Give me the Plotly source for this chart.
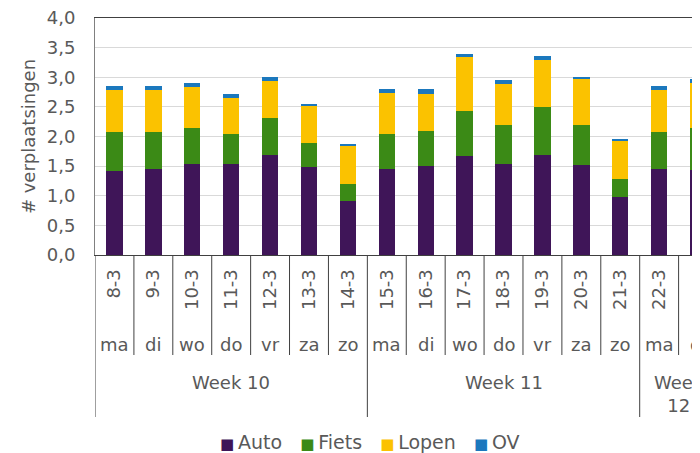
import plotly.graph_objects as go

dates = ["8-3", "9-3", "10-3", "11-3", "12-3", "13-3", "14-3", "15-3",
         "16-3", "17-3", "18-3", "19-3", "20-3", "21-3", "22-3", "23-3"]
weekdays = ["ma", "di", "wo", "do", "vr", "za", "zo", "ma",
            "di", "wo", "do", "vr", "za", "zo", "ma", "di"]
weeks = ["Week 10", "Week 11", "Week<br>12"]
week_start = [0, 7, 14]
week_end = [6, 13, 15]

auto = [1.42, 1.45, 1.53, 1.54, 1.69, 1.48, 0.91, 1.46, 1.51, 1.67, 1.54, 1.69, 1.52, 0.98, 1.45, 1.43]
fiets = [0.65, 0.62, 0.62, 0.50, 0.62, 0.41, 0.29, 0.59, 0.58, 0.76, 0.66, 0.80, 0.67, 0.30, 0.63, 0.72]
lopen = [0.72, 0.71, 0.68, 0.61, 0.63, 0.63, 0.64, 0.68, 0.63, 0.91, 0.69, 0.80, 0.78, 0.65, 0.71, 0.75]
ov = [0.06, 0.07, 0.07, 0.07, 0.07, 0.03, 0.03, 0.07, 0.08, 0.06, 0.07, 0.07, 0.04, 0.03, 0.07, 0.07]
y_ticks = [0, 0.5, 1.0, 1.5, 2.0, 2.5, 3.0, 3.5, 4.0]

series_names = ["Auto", "Fiets", "Lopen", "OV"]
series_vals = [auto, fiets, lopen, ov]
series_cols = ["#3f1558", "#3b8a16", "#fbc200", "#1b78bd"]

FONT = "DejaVu Sans, Verdana, sans-serif"
GRAY = "#595959"

fig = go.Figure()
x_idx = list(range(len(dates)))
for name, vals, col in zip(series_names, series_vals, series_cols):
    fig.add_trace(go.Bar(x=x_idx, y=vals, name=name, showlegend=False,
                         marker=dict(color=col, line=dict(width=0))))

# The page body has an 8px default margin, so the figure is drawn 8px in
# from the window's top-left corner; size it to end at the window edges.
OFF = 8
W, H = 700 - OFF, 453 - OFF
plot_left, plot_top, plot_bottom = 95 - OFF, 18 - OFF, 255 - OFF
ml, mr, mt, mb = plot_left, 0, plot_top, H - plot_bottom
ph = H - mt - mb

def py(pix):
    """window pixel row -> paper y"""
    return (plot_bottom - (pix - OFF)) / ph

def px(pix):
    """window pixel column -> paper x"""
    return (pix - OFF - ml) / (W - ml - mr)

line_col = "#404040"
shapes = []
for k in range(1, len(dates)):
    bottom = 417 if k in week_start else 355
    shapes.append(dict(type="line", xref="x", yref="paper", x0=k - 0.5, x1=k - 0.5,
                       y0=0, y1=py(bottom), line=dict(color=line_col, width=1)))
shapes.append(dict(type="line", xref="x", yref="paper", x0=-0.5, x1=-0.5,
                   y0=0, y1=py(417), line=dict(color=line_col, width=1)))

annotations = []
for i, wd in enumerate(weekdays):
    annotations.append(dict(x=i, y=py(344), xref="x", yref="paper", text=wd, showarrow=False,
                            font=dict(family=FONT, size=18, color=GRAY), xanchor="center", yanchor="middle"))
for wk, s, e in zip(weeks, week_start, week_end):
    yy = py(394) if "<br>" in wk else py(382)
    annotations.append(dict(x=(s + e) / 2, y=yy, xref="x", yref="paper", text=wk, showarrow=False,
                            font=dict(family=FONT, size=18, color=GRAY), xanchor="center", yanchor="middle"))

# legend (Excel style: small square directly before the name)
legend_parts = []
for name, col in zip(series_names, series_cols):
    legend_parts.append(f'<span style="color:{col};font-size:15px">■</span>&#8201;{name}')
legend_text = "&nbsp;&nbsp;&nbsp;".join(legend_parts)
annotations.append(dict(x=px(370), y=py(442), xref="paper", yref="paper", text=legend_text,
                        showarrow=False, font=dict(family=FONT, size=19, color=GRAY),
                        xanchor="center", yanchor="middle"))

fig.update_layout(
    width=W, height=H,
    margin=dict(l=ml, r=mr, t=mt, b=mb, pad=0, autoexpand=False),
    barmode="stack",
    bargap=0.58,
    separators=",.",
    plot_bgcolor="white", paper_bgcolor="white",
    font=dict(family=FONT, size=18, color=GRAY),
    shapes=shapes,
    annotations=annotations,
    showlegend=False,
)
fig.update_xaxes(
    range=[-0.5, 15.05], automargin=False,
    tickmode="array", tickvals=x_idx, ticktext=dates, tickangle=-90,
    tickfont=dict(family=FONT, size=18, color=GRAY),
    showline=True, linecolor=line_col, linewidth=1, mirror=True,
    showgrid=False, zeroline=False, ticks="", ticklabelstandoff=6,
)
fig.update_yaxes(
    range=[0, 4], tickmode="array", tickvals=y_ticks, tickformat=".1f", automargin=False,
    tickfont=dict(family=FONT, size=18, color=GRAY), ticklabeloverflow="allow",
    showline=True, linecolor="#808080", linewidth=1,
    showgrid=True, gridcolor="#d9d9d9", gridwidth=1, zeroline=False,
    ticks="", ticklabelstandoff=15,
    title=dict(text="# verplaatsingen", font=dict(family=FONT, size=18, color=GRAY), standoff=6),
)

fig.write_html("out.html")
